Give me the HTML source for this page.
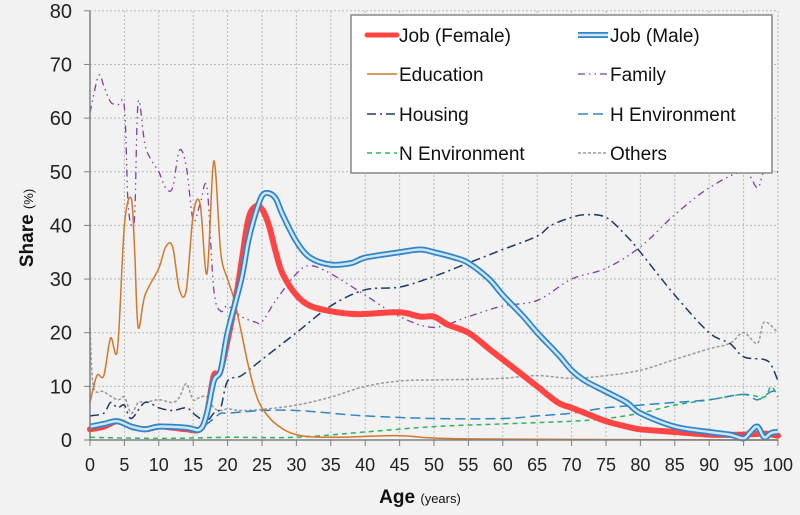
<!DOCTYPE html>
<html><head><meta charset="utf-8"><style>
html,body{margin:0;padding:0;background:#f2f2f2;}
svg{display:block;font-family:"Liberation Sans",sans-serif;}
</style></head><body>
<svg id="c" width="800" height="515" xmlns="http://www.w3.org/2000/svg">
<rect width="800" height="515" fill="#f2f2f2"/>
<g id="grid"></g>
<g id="series"></g>
<line x1="90" y1="11" x2="90" y2="440" stroke="#7f7f7f" stroke-width="1.5"/>
<line x1="90" y1="440" x2="778" y2="440" stroke="#7f7f7f" stroke-width="1.5"/>
<g id="ticks" font-size="20" fill="#222"></g>
<text transform="translate(33,228) rotate(-90)" text-anchor="middle" font-size="19" font-weight="bold" fill="#111">Share <tspan font-size="13" font-weight="normal">(%)</tspan></text>
<text x="420" y="503" text-anchor="middle" font-size="19" font-weight="bold" fill="#111">Age <tspan font-size="13" font-weight="normal">(years)</tspan></text>
<rect x="351" y="15" width="421" height="158" fill="#fff" stroke="#888" stroke-width="1.5"/>
<g font-size="19" fill="#111">
<line x1="367" y1="35" x2="397" y2="35" stroke="#f44" stroke-width="5" stroke-linecap="round"/>
<text x="399" y="42">Job (Female)</text>
<line x1="578" y1="35" x2="608" y2="35" stroke="#2e86c8" stroke-width="6"/><line x1="578" y1="35" x2="608" y2="35" stroke="#cfe6f7" stroke-width="2.5"/>
<text x="610" y="42">Job (Male)</text>
<line x1="367" y1="74" x2="397" y2="74" stroke="#d2782a" stroke-width="1.5"/>
<text x="399" y="81">Education</text>
<line x1="578" y1="74" x2="608" y2="74" stroke="#7e3fa5" stroke-width="1.3" stroke-dasharray="7,4,1.5,4,1.5,4"/>
<text x="610" y="81">Family</text>
<line x1="367" y1="114" x2="397" y2="114" stroke="#1f3864" stroke-width="1.5" stroke-dasharray="9,4,2,4"/>
<text x="399" y="121">Housing</text>
<line x1="578" y1="114" x2="608" y2="114" stroke="#2e86c8" stroke-width="1.5" stroke-dasharray="10,5"/>
<text x="610" y="121">H Environment</text>
<line x1="367" y1="153" x2="397" y2="153" stroke="#2db55d" stroke-width="1.5" stroke-dasharray="5,4"/>
<text x="399" y="160">N Environment</text>
<line x1="578" y1="153" x2="608" y2="153" stroke="#999" stroke-width="1.5" stroke-dasharray="3,2"/>
<text x="610" y="160">Others</text>
</g>
</svg>
<script>
var X=function(v){return 90+6.88*v},Y=function(v){return 440-5.365*v};
var NS="http://www.w3.org/2000/svg";
function el(p,t,a){var e=document.createElementNS(NS,t);for(var k in a)e.setAttribute(k,a[k]);p.appendChild(e);return e;}
var g=document.getElementById('grid'),tk=document.getElementById('ticks');
for(var i=0;i<=100;i+=5){el(g,'line',{x1:X(i),y1:11,x2:X(i),y2:440,stroke:'#b8b8b8','stroke-width':1,'stroke-dasharray':'2,2'});
 el(g,'line',{x1:X(i),y1:440,x2:X(i),y2:446,stroke:'#7f7f7f'});
 var t=el(tk,'text',{x:X(i),y:471,'text-anchor':'middle','font-size':18});t.textContent=i;}
for(var j=0;j<=80;j+=10){if(j>0)el(g,'line',{x1:90,y1:Y(j),x2:778,y2:Y(j),stroke:'#b8b8b8','stroke-width':1,'stroke-dasharray':'2,2'});
 el(g,'line',{x1:84,y1:Y(j),x2:90,y2:Y(j),stroke:'#7f7f7f'});
 var t=el(tk,'text',{x:72,y:Y(j)+7,'text-anchor':'end'});t.textContent=j;}
function P(a){var p=[];for(var i=0;i<a.length;i+=2)p.push([X(a[i]),Y(a[i+1])]);
 var s='M'+p[0][0].toFixed(1)+','+p[0][1].toFixed(1);
 for(var i=0;i<p.length-1;i++){var p0=p[i-1]||p[i],p1=p[i],p2=p[i+1],p3=p[i+2]||p2;
  var c1=[p1[0]+(p2[0]-p0[0])/6,p1[1]+(p2[1]-p0[1])/6],c2=[p2[0]-(p3[0]-p1[0])/6,p2[1]-(p3[1]-p1[1])/6];
  s+='C'+c1[0].toFixed(1)+','+c1[1].toFixed(1)+' '+c2[0].toFixed(1)+','+c2[1].toFixed(1)+' '+p2[0].toFixed(1)+','+p2[1].toFixed(1);}
 return s;}
var S=document.getElementById('series');
function line(d,at){at.d=P(d);at.fill='none';at['stroke-linejoin']='round';el(S,'path',at);}
var edu=[0,7,1,12,2,12,3,19,4,17,5,40,6,45,6.5,35,7,21,8,27,10,32,11,36,12,36,13,28,14,28,15,42,16,44,17,31,18,52,19,35,20,30,21,26,22,20,23,14,24,9,25,6,27,3,30,1,35,0.5,45,0.8,55,0.2,100,0];
var fam=[0,61,1,67,1.5,68,2,66,3,63,4,62.5,5,62,5.5,45,6,40,6.5,42,7,63,8,55,9,52,10,50,11,47,12,47,13,54,14,51,15,41,16,44,17,47,18,28,19,24,20,25,22,23,24,22,25,22,27,26,30,31,32,32.5,35,31,40,27,45,23,50,21,55,23,60,25,65,26,70,30,75,32,80,36,85,42,90,47,95,50,97,47,98,50,100,50];
var hou=[0,4.5,2,5,3,7,4,6,5,6.5,6,4,8,7,10,6,12,5.5,14,6,15,5,16,4,17,3.5,18,5,19,6,20,11,22,12,25,15,30,20,35,25,40,28,45,28.5,50,30.5,55,33,60,35.5,65,38,67,40,70,41.5,72,42,75,41.5,78,38,80,35,85,27,90,20,93,18,95,15.5,98,15,99,14,100,11];
var hen=[0,2.5,2,3,4,3.5,6,2,8,2,10,2.5,14,2,16,2,17,3,18,4,19,5,20,5,25,5.5,30,5.5,35,5,40,4.5,50,4,60,4,65,4.5,70,5,75,6,80,6.5,85,7,90,7.5,95,8.5,97,7.5,99,9,100,9];
var nen=[0,0.5,10,0.3,20,0.5,30,0.5,40,1.5,50,2.5,60,3,70,3.5,75,4,80,5,85,6.5,90,7.5,95,8.5,98,8,99,10,100,8];
var oth=[0,21,0.5,10,2,9,4,7.5,5,8,6,5,7,7,8,7,10,7.5,12,7,13,8,14,10.5,15,7.5,16,8,17,8,18,6,19,5.5,20,5.8,22,5.5,25,5.7,30,6.5,35,8,40,10,45,11,50,11.2,55,11.3,60,11.5,65,12,70,11.5,75,12,80,13,85,15,90,17,93,18,95,20,97,18,98,22,100,20];
var jf=[0,2,2,2.5,4,3.5,6,2.5,8,2,10,2.5,12,2.3,14,2,16,2,17,5,18,12,19,13,21,25,22,33,23,41,24,43.5,25,43,26,40,27,35,28,31,30,27,32,25,35,24,38,23.5,40,23.5,45,23.8,48,23,50,23,52,21.5,55,20,58,17,60,15,62,13,65,10,68,7,70,6,72,5,75,3.5,78,2.5,80,2,85,1.5,90,1,95,1,98,1.2,100,0.8];
var jm=[0,2.5,2,3,4,3.5,6,2.5,8,2,10,2.5,14,2.3,16,2,17,5,18,11,19,13,20,20,22,30,23,37,24,42,25,45.5,26,46,27,45,28,42,30,37,32,34,35,32.7,38,33,40,34,45,35,48,35.5,50,35,53,34,55,33,58,30,60,27,63,23,65,20,68,16,70,13,72,11,75,9,78,7,80,5,85,2.5,90,1.5,93,1,95,0.3,96,1.5,97,2.5,98,0.5,99,1.3,100,1.5];
line(oth,{stroke:'#999','stroke-width':1.5,'stroke-dasharray':'3,2'});
line(nen,{stroke:'#2db55d','stroke-width':1.5,'stroke-dasharray':'5,4'});
line(hen,{stroke:'#2e86c8','stroke-width':1.5,'stroke-dasharray':'10,5'});
line(hou,{stroke:'#1f3864','stroke-width':1.5,'stroke-dasharray':'9,4,2,4'});
line(fam,{stroke:'#7e3fa5','stroke-width':1.3,'stroke-dasharray':'7,4,1.5,4,1.5,4'});
line(edu,{stroke:'#d2782a','stroke-width':1.5});
line(jf,{stroke:'#f44','stroke-width':6,'stroke-linecap':'round'});
line(jm,{stroke:'#2e86c8','stroke-width':6});
line(jm,{stroke:'#cfe6f7','stroke-width':2.5});
</script>
</body></html>
